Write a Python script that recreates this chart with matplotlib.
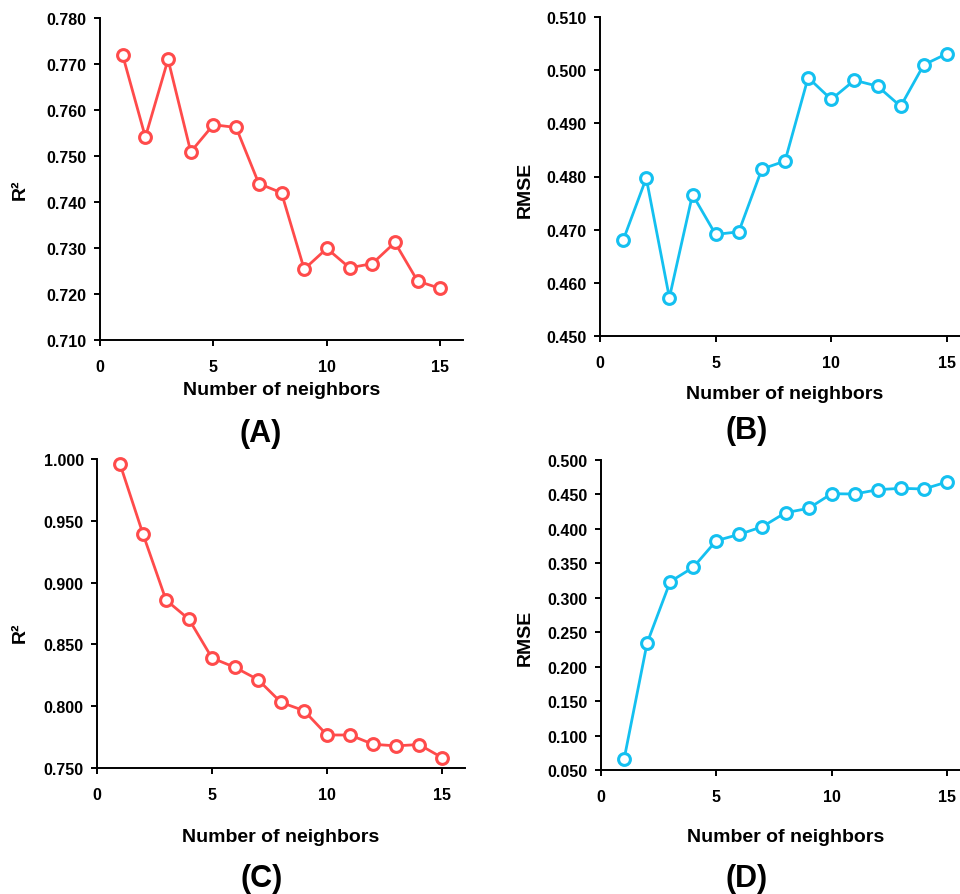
import matplotlib
matplotlib.use("Agg")
import matplotlib.pyplot as plt
import numpy as np

plt.rcParams['font.family'] = ['Liberation Sans', 'DejaVu Sans']
plt.rcParams['font.weight'] = 'bold'

neighbors = np.arange(1, 16)

r2_a = [0.7719, 0.7541, 0.7710, 0.7509, 0.7568, 0.7562, 0.7440, 0.7420,
        0.7254, 0.7299, 0.7257, 0.7266, 0.7312, 0.7228, 0.7212]
rmse_b = [0.4680, 0.4797, 0.4572, 0.4766, 0.4691, 0.4696, 0.4814, 0.4829,
          0.4986, 0.4945, 0.4981, 0.4970, 0.4932, 0.5010, 0.5031]
r2_c = [0.996, 0.9393, 0.8859, 0.8703, 0.8390, 0.8314, 0.8215, 0.8031,
        0.7964, 0.7767, 0.7767, 0.7692, 0.7679, 0.7690, 0.7584]
rmse_d = [0.0655, 0.2344, 0.3234, 0.3442, 0.3829, 0.3921, 0.4032, 0.4235,
          0.4298, 0.4511, 0.4506, 0.4569, 0.4589, 0.4579, 0.4681]

RED = '#ff4b4b'
CYAN = '#14c0f0'

W, H = 960, 895
fig = plt.figure(figsize=(W / 100, H / 100), dpi=100)


def px_axes(left, top, right, bottom):
    return fig.add_axes([left / W, 1 - bottom / H, (right - left) / W, (bottom - top) / H])


panels = [
    # data, color, ylabel, ylim, yticks, box(px), ylabel coords, xlabel y, tag, tag pos
    (r2_a, RED, 'R²', (0.710, 0.780), np.arange(0.710, 0.7801, 0.010),
     (100, 19, 463, 341), (-0.22, 0.469), -0.155, '(A)', (261, 434)),
    (rmse_b, CYAN, 'RMSE', (0.450, 0.510), np.arange(0.450, 0.5101, 0.010),
     (600, 18, 970, 337), (-0.203, 0.461), -0.179, '(B)', (747, 431)),
    (r2_c, RED, 'R²', (0.750, 1.000), np.arange(0.750, 1.0001, 0.050),
     (97, 460, 465, 769), (-0.209, 0.44), -0.223, '(C)', (262, 879)),
    (rmse_d, CYAN, 'RMSE', (0.050, 0.500), np.arange(0.050, 0.5001, 0.050),
     (601, 461, 970, 771), (-0.206, 0.429), -0.216, '(D)', (747, 879)),
]

for vals, col, ylab, ylim, yticks, box, ylc, xly, tag, tagpos in panels:
    ax = px_axes(*box)
    ax.plot(neighbors, vals, color=col, lw=2.0, marker='o', ms=8.5,
            mfc='white', mec=col, mew=2.2, clip_on=False, zorder=3)
    ax.set_xlim(0, 16)
    ax.set_ylim(*ylim)
    ax.set_xticks([0, 5, 10, 15])
    ax.set_yticks(yticks)
    ax.set_yticklabels([f'{v:.3f}' for v in yticks])
    for s in ['top', 'right']:
        ax.spines[s].set_visible(False)
    for s in ['left', 'bottom']:
        ax.spines[s].set_linewidth(1.4)
    ax.tick_params(axis='y', direction='out', length=4.5, width=1.4, pad=5, labelsize=11.5)
    ax.tick_params(axis='x', direction='out', length=4.5, width=1.4, pad=9, labelsize=11.5)
    ax.set_ylabel(ylab, fontsize=14, fontweight='bold')
    ax.yaxis.set_label_coords(*ylc)
    ax.yaxis.label.set_va('center')
    ax.set_xlabel('Number of neighbors', fontsize=14, fontweight='bold')
    ax.xaxis.set_label_coords(0.5, xly)
    ax.xaxis.label.set_va('center')
    fig.text(tagpos[0] / W, 1 - tagpos[1] / H, tag, fontsize=22,
             fontweight='bold', ha='center', va='center')

fig.savefig('out.png', dpi=100)
